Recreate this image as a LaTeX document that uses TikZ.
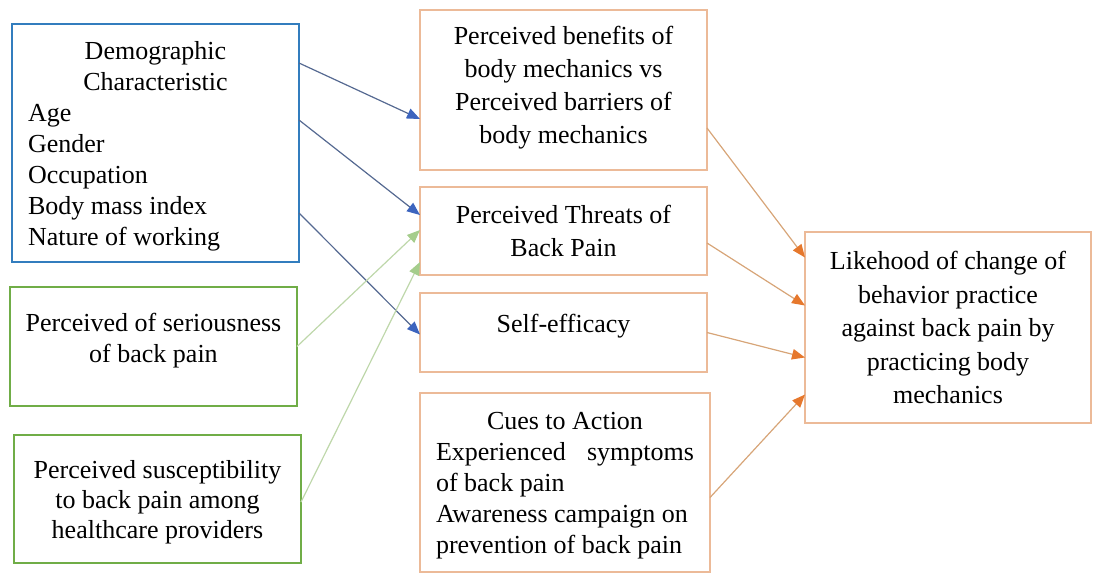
\documentclass[tikz,border=0pt]{standalone}
\usepackage{fontspec}
\setmainfont{Liberation Serif}
\usepackage{xcolor}
\usepackage{tikz}
\usetikzlibrary{arrows.meta, positioning}
\definecolor{boxblue}{RGB}{50,125,190}
\definecolor{boxgreen}{RGB}{112,173,71}
\definecolor{boxorange}{RGB}{236,186,152}
\definecolor{lineblue}{RGB}{85,105,145}
\definecolor{headblue}{RGB}{60,100,190}
\definecolor{linegreen}{RGB}{190,215,170}
\definecolor{headgreen}{RGB}{165,205,140}
\definecolor{lineorange}{RGB}{215,165,120}
\definecolor{headorange}{RGB}{230,120,45}
\tikzset{
    hbmbox/.style={
        rectangle,
        line width=2pt,
        outer sep=0pt,
        inner sep=0pt,
        minimum width=287pt,
        fill=white,
        font=\fontsize{26}{31}\selectfont
    },
    lead/.style={
        font=\fontsize{26}{#1}\selectfont
    },
    factor/.style={
        hbmbox,
        align=center
    },
    listbox/.style={
        hbmbox,
        align=left,
        inner xsep=16pt
    },
    bluewire/.style={
        draw=lineblue,
        line width=1.2pt,
        -{Triangle[length=13pt, width=10.5pt, color=headblue]}
    },
    greenwire/.style={
        draw=linegreen,
        line width=1.2pt,
        -{Triangle[length=13pt, width=10.5pt, color=headgreen]}
    },
    orangewire/.style={
        draw=lineorange,
        line width=1.2pt,
        -{Triangle[length=13pt, width=10.5pt, color=headorange]}
    }
}
\begin{document}
\begin{tikzpicture}[x=1pt, y=-1pt, node distance=17pt and 98pt]
\useasboundingbox (0,0) rectangle (1098,574);

% Modifying factors
\node[listbox, draw=boxblue, minimum height=238pt, text depth=-3pt] (demo) at (155.5,143) {\makebox[255pt]{Demographic}\\ \makebox[255pt]{Characteristic}\\
Age\\ Gender\\ Occupation\\ Body mass index\\ Nature of working};
\node[factor, draw=boxgreen, minimum height=119pt, text depth=18pt, below right=25pt and -2pt of demo.south west] (serious) {Perceived of seriousness\\ of back pain};
\node[factor, draw=boxgreen, lead=30, minimum height=128pt, text depth=0pt, below right=29pt and 4pt of serious.south west] (suscept) {Perceived susceptibility\\ to back pain among\\ healthcare providers};

% HBM constructs
\node[factor, draw=boxorange, lead=33, minimum height=160pt, text depth=10pt] (benefit) at (563.5,90) {Perceived benefits of\\ body mechanics vs\\ Perceived barriers of\\ body mechanics};
\node[factor, draw=boxorange, lead=33, minimum height=88pt, below=17pt of benefit] (threat) {Perceived Threats of\\ Back Pain};
\node[factor, draw=boxorange, minimum height=79pt, text depth=19pt, below=18pt of threat] (efficacy) {Self-efficacy};
\node[listbox, draw=boxorange, minimum width=290pt, minimum height=179pt, text depth=0pt, below=21pt of efficacy, xshift=1.5pt] (cues) {\makebox[258pt]{Cues to Action}\\
\makebox[258pt][s]{Experienced\hfil symptoms}\\ of back pain\\ Awareness campaign on\\ prevention of back pain};

% Outcome
\node[factor, draw=boxorange, lead=33.5, minimum width=286pt, minimum height=191pt, right=98pt of efficacy, yshift=5pt] (likely) {Likehood of change of\\ behavior practice\\ against back pain by\\ practicing body\\ mechanics};

% Demographic links
\draw[bluewire] ([yshift=80pt]demo.east) -- ([yshift=-29pt]benefit.west);
\draw[bluewire] ([yshift=23pt]demo.east) -- ([yshift=16pt]threat.west);
\draw[bluewire] ([yshift=-70pt]demo.east) -- ([yshift=-2pt]efficacy.west);

% Threat links
\draw[greenwire] (serious.east) -- ([yshift=1pt]threat.west);
\draw[greenwire] ([yshift=-3pt]suscept.east) -- ([yshift=-31pt]threat.west);

% Links to outcome
\draw[orangewire] ([yshift=-38pt]benefit.east) -- ([yshift=70pt]likely.west);
\draw[orangewire] ([yshift=-12pt]threat.east) -- ([yshift=22pt]likely.west);
\draw[orangewire] (efficacy.east) -- ([yshift=-30pt]likely.west);
\draw[orangewire] ([yshift=-15pt]cues.east) -- ([yshift=-67pt]likely.west);

\end{tikzpicture}
\end{document}
